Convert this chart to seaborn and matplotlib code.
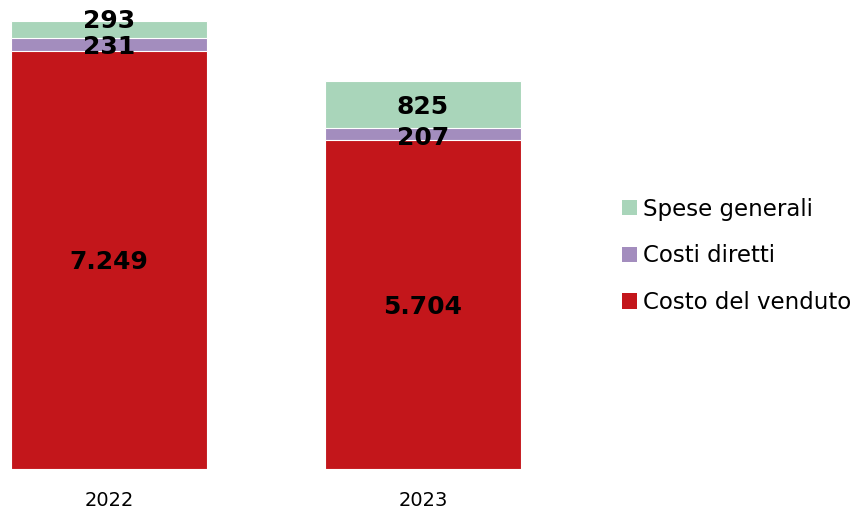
import matplotlib
matplotlib.use("Agg")
import matplotlib.pyplot as plt
import matplotlib.patches as mpatches
import numpy as np
import pandas as pd
import seaborn as sns

years = ["2022", "2023"]
costo_venduto = [7249, 5704]
costi_diretti = [231, 207]
spese_generali = [293, 825]

series_names = ["Costo del venduto", "Costi diretti", "Spese generali"]
colors = ["#C3161B", "#A38DBE", "#A9D5BA"]


def fmt(v):
    return f"{v:,}".replace(",", ".")


df = pd.DataFrame({
    "year": years,
    "Costo del venduto": costo_venduto,
    "Costi diretti": costi_diretti,
    "Spese generali": spese_generali,
})
df["cum1"] = df["Costo del venduto"]
df["cum2"] = df["cum1"] + df["Costi diretti"]
df["cum3"] = df["cum2"] + df["Spese generali"]

sns.set_theme(style="white")
plt.rcParams["font.family"] = ["DejaVu Sans"]

fig = plt.figure(figsize=(8.58, 5.12), dpi=100)
ax = fig.add_axes([0, 43 / 512, 560 / 858, 469 / 512])

# draw tallest first so the stacks show through
for col, c in zip(["cum3", "cum2", "cum1"], colors[::-1]):
    sns.barplot(data=df, x="year", y=col, color=c, saturation=1, width=0.624,
                edgecolor="white", linewidth=0.8, ax=ax)

ax.set_xlim(-109 / 314, (560 - 109) / 314)
ax.set_ylim(0, 8133)
sns.despine(ax=ax, left=True, bottom=True)
ax.set_yticks([])
ax.set_xlabel("")
ax.set_ylabel("")
ax.tick_params(axis="x", length=0, pad=16, labelsize=14, labelcolor="black")

# value labels
nudges = {("Spese generali", 0): 140, ("Costi diretti", 0): -50, ("Costi diretti", 1): -60}
for i in range(len(years)):
    base = 0
    for name in series_names:
        v = df[name].iloc[i]
        y = base + v / 2 + nudges.get((name, i), -40)
        ax.text(i, y, fmt(v), ha="center", va="center", fontsize=18,
                fontweight="bold", color="black")
        base += v

handles = [mpatches.Patch(facecolor=c, edgecolor="none") for c in colors][::-1]
fig.legend(handles, series_names[::-1], loc="center left",
           bbox_to_anchor=(622 / 858, 1 - 256 / 512), frameon=False,
           fontsize=16.5, handlelength=0.65, handleheight=0.65,
           handletextpad=0.26, labelspacing=1.03, borderpad=0,
           borderaxespad=0, labelcolor="black")

fig.savefig("out.png", dpi=100)
